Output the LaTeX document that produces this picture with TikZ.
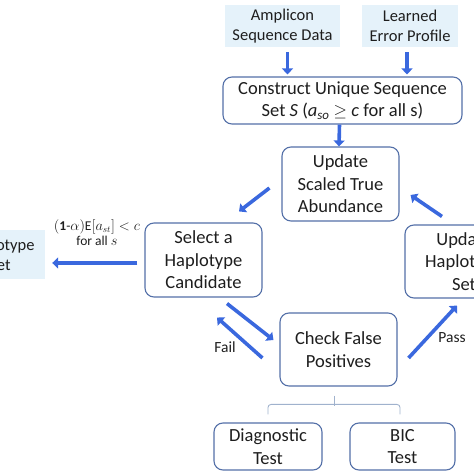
\documentclass[tikz,border=0pt]{standalone}
\usepackage{amsmath}
\usepackage{fontspec}
\setmainfont{Carlito}
\usepackage{tikz}
\usetikzlibrary{arrows.meta, positioning, calc}
\usepackage{xcolor}
\definecolor{flowblue}{RGB}{58,104,222}
\definecolor{boxline}{RGB}{84,112,168}
\definecolor{inputfill}{RGB}{229,242,250}
\definecolor{bracegray}{RGB}{160,178,205}
\definecolor{textdark}{RGB}{30,30,30}

\begin{document}
\begin{tikzpicture}[x=1pt, y=1pt,
  box/.style={draw=boxline, line width=1.1pt, rounded corners=9pt, fill=white, align=center, inner sep=0pt, text=textdark, font=\fontsize{18.5}{22.5}\selectfont},
  inbox/.style={fill=inputfill, align=center, inner sep=0pt, text=textdark, font=\fontsize{16.5}{19.5}\selectfont},
  flow/.style={flowblue, line width=3.6pt, -{Triangle[length=6pt, width=11pt]}},
  brace/.style={bracegray, line width=0.9pt, rounded corners=3pt},
  tag/.style={text=textdark, font=\fontsize{15.5}{18}\selectfont}]
  \useasboundingbox (0,0) rectangle (474,474);
  \clip (0,0) rectangle (474,474);
  % Inputs
  \node (amp) [inbox, minimum width=115pt, minimum height=42pt] at (282.5,448) {Amplicon\\Sequence Data};
  \node (err) [inbox, minimum width=96pt, minimum height=42pt] at (410,448) {Learned\\Error Profile};
  \node (construct) [box, minimum width=239pt, minimum height=47pt] at (342.5,373.5) {Construct Unique Sequence\\Set \textit{S} (\textit{a}\textsubscript{\textit{so}} $\geq$ \textit{c} for all s)};
  % Loop
  \node (update) [box, minimum width=117pt, minimum height=74pt] at (340.5,290) {Update\\Scaled True\\Abundance};
  \node (select) [box, minimum width=117pt, minimum height=74pt] at (203.5,214) {Select a\\Haplotype\\Candidate};
  \node (updhap) [box, minimum width=118pt, minimum height=73pt] at (464,212.5) {Update\\Haplotype\\Set};
  \node (check) [box, minimum width=117pt, minimum height=73pt] at (338.5,124.5) {Check False\\Positives};
  \node (haploset) [inbox, minimum width=90pt, minimum height=49pt] at (0,219) {Haplotype\\Set};
  % Tests
  \node (diag) [box, minimum width=108pt, minimum height=47pt] at (268,27.5) {Diagnostic\\Test};
  \node (bic) [box, minimum width=105pt, minimum height=47pt] at (402.5,27.5) {BIC\\Test};
  % Arrows
  \draw[flow] ([xshift=5pt, yshift=-5pt]amp.south) -- ([xshift=5pt, yshift=2pt]amp.south |- construct.north);
  \draw[flow] ([xshift=-3pt, yshift=-5pt]err.south) -- ([xshift=-3pt, yshift=2pt]err.south |- construct.north);
  \draw[flow] ([xshift=-3pt]construct.south) -- ([xshift=-1.5pt]update.north);
  \draw[flow] ($(update.west)+(-12,-4)$) -- ($(select.north)+(35.5,11)$);
  \draw[flow] ($(updhap.north)+(-22,8)$) -- ($(update.east)+(11,-11)$);
  \draw[flow] ([xshift=-7pt, yshift=-3pt]select.west) -- ([xshift=7pt, yshift=-8pt]haploset.east);
  \draw[flow] ($(select.south)+(23.5,-6)$) -- ($(check.west)+(-6,9.5)$);
  \draw[flow] ($(check.west)+(-17,-8.5)$) -- ($(select.south)+(13.5,-20)$);
  \draw[flow] ($(check.east)+(11,-8.5)$) -- ($(updhap.south)+(-7,-7)$);
  % Labels
  \node (cond) [text=textdark, align=center, font=\fontsize{13.5}{15}\selectfont] at (97,241.5) {$(\mathbf{1}\text{-}\alpha)\mathrm{E}[a_{st}] < c$\\for all $s$};
  \node (fail) [tag] at (225,127) {Fail};
  \node (pass) [tag] at (452,136) {Pass};
  % Bracket
  \draw[brace] ([xshift=-4pt, yshift=-9pt]check.south) -- ++(0,-10);
  \draw[brace] ([yshift=8pt]diag.north) -- ++(0,10) -| ([xshift=-2.5pt, yshift=8pt]bic.north);
\end{tikzpicture}
\end{document}
